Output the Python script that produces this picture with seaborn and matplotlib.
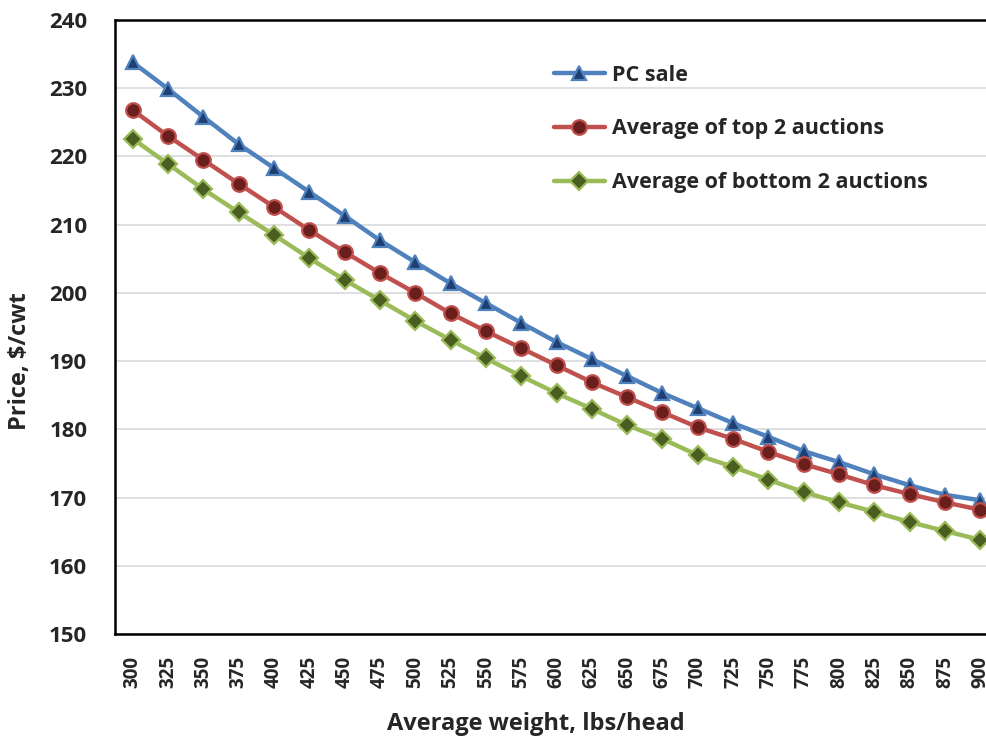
import matplotlib
matplotlib.use("Agg")
import matplotlib.pyplot as plt
import seaborn as sns
import pandas as pd
import numpy as np

# Feeder cattle price by average weight
weights = [300, 325, 350, 375, 400, 425, 450, 475, 500, 525, 550, 575, 600,
           625, 650, 675, 700, 725, 750, 775, 800, 825, 850, 875, 900]
pc_sale = [233.8, 229.9, 225.8, 221.8, 218.3, 214.8, 211.3, 207.7, 204.5, 201.4,
           198.5, 195.6, 192.8, 190.3, 187.8, 185.3, 183.1, 180.9, 178.9, 176.8,
           175.2, 173.4, 171.8, 170.4, 169.6]
top2 = [226.8, 223.0, 219.5, 216.0, 212.6, 209.2, 206.0, 202.9, 200.0, 197.0,
        194.4, 191.9, 189.4, 186.9, 184.7, 182.5, 180.3, 178.6, 176.7, 174.9,
        173.4, 171.8, 170.5, 169.3, 168.2]
bottom2 = [222.6, 218.9, 215.2, 211.8, 208.5, 205.1, 201.9, 198.9, 195.9, 193.1,
           190.4, 187.8, 185.3, 183.0, 180.6, 178.6, 176.2, 174.5, 172.6, 170.8,
           169.3, 167.9, 166.4, 165.1, 163.8]
series_names = ["PC sale", "Average of top 2 auctions", "Average of bottom 2 auctions"]
y_ticks = [150, 160, 170, 180, 190, 200, 210, 220, 230, 240]

sns.set_theme(style="white")
plt.rcParams["font.family"] = ["Open Sans", "DejaVu Sans"]

pos = np.arange(len(weights))
df = pd.DataFrame({
    "pos": np.tile(pos, 3),
    "price": pc_sale + top2 + bottom2,
    "series": np.repeat(series_names, len(weights)),
})

fig = plt.figure(figsize=(9.86, 7.44), dpi=100)
# plot area runs past the right edge of the figure
ax = fig.add_axes([115 / 986, 1 - 634 / 744, 883 / 986, (634 - 20) / 744])

styles = {
    "PC sale": dict(color="#4F81BD", marker="^", mfc="#1F3F73", ms=10.5),
    "Average of top 2 auctions": dict(color="#C0504D", marker="o", mfc="#6B1F1D", ms=10.5),
    "Average of bottom 2 auctions": dict(color="#9BBB59", marker="D", mfc="#4A5E22", ms=9),
}
for name in series_names:
    st = styles[name]
    sns.lineplot(data=df[df["series"] == name], x="pos", y="price", ax=ax,
                 color=st["color"], linewidth=3.2, marker=st["marker"],
                 markersize=st["ms"], markerfacecolor=st["mfc"],
                 markeredgecolor=st["color"], markeredgewidth=1.6,
                 label=name, zorder=3)

ax.set_xlim(-0.5, len(weights) - 0.5)
ax.set_ylim(150, 240)
ax.set_yticks(y_ticks)
ax.set_yticklabels([str(t) for t in y_ticks], fontsize=16, fontweight="bold")
ax.set_xticks(pos)
ax.set_xticklabels([str(w) for w in weights], rotation=90, fontsize=13.5,
                   fontweight="bold")
ax.tick_params(axis="both", length=0)
ax.tick_params(axis="y", pad=20)
ax.tick_params(axis="x", pad=16)

ax.yaxis.grid(True, color="#D9D9D9", linewidth=1.2)
ax.set_axisbelow(True)
for side in ["left", "bottom", "top", "right"]:
    ax.spines[side].set_visible(True)
    ax.spines[side].set_color("black")
    ax.spines[side].set_linewidth(1.8)

ax.set_xlabel("Average weight, lbs/head", fontsize=17, fontweight="bold")
ax.set_ylabel("Price, $/cwt", fontsize=17, fontweight="bold")
ax.xaxis.set_label_coords((536 - 115) / 883, -(712 - 634) / 614)
ax.yaxis.set_label_coords(-(115 - 32) / 883, (634 - 361) / 614)

leg = ax.legend(loc="upper left", bbox_to_anchor=(545 / 986, 1 - 56 / 744),
                bbox_transform=fig.transFigure, frameon=False,
                prop={"weight": "bold", "size": 15.5}, handlelength=2.4,
                handletextpad=0.3, labelspacing=1.52, borderaxespad=0)

fig.savefig("out.png", dpi=100)
